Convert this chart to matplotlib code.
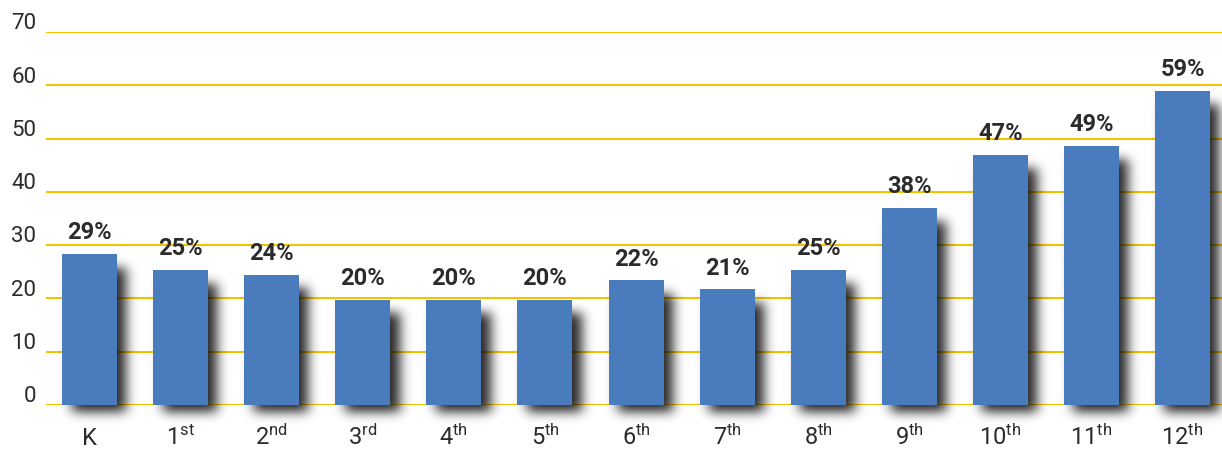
import numpy as np
import matplotlib.pyplot as plt
from matplotlib.transforms import ScaledTranslation

# grades and values
grades = ["K", "1", "2", "3", "4", "5", "6", "7", "8", "9", "10", "11", "12"]
suffixes = ["", "st", "nd", "rd", "th", "th", "th", "th", "th", "th", "th", "th", "th"]
heights = [28.3, 25.3, 24.4, 19.7, 19.7, 19.7, 23.4, 21.7, 25.3, 37.0, 46.9, 48.6, 58.9]
labels = [29, 25, 24, 20, 20, 20, 22, 21, 25, 38, 47, 49, 59]

plt.rcParams["font.family"] = ["Roboto", "DejaVu Sans"]
plt.rcParams["mathtext.default"] = "regular"

BAR_COLOR = "#4a7bbd"
GRID_COLOR = "#f2c300"
TEXT_COLOR = "#2b2b2b"


def blur_1d(a, sigma, axis):
    r = int(3 * sigma)
    k = np.exp(-0.5 * (np.arange(-r, r + 1) / sigma) ** 2)
    k /= k.sum()
    return np.apply_along_axis(lambda v: np.convolve(v, k, mode="same"), axis, a)


def draw_shadows(ax, x, h, width, xlim, px_x, px_y):
    # blurred drop shadow computed on a pixel grid, offset right and down
    y0, y1 = -8.0, 70.0
    nx = int((xlim[1] - xlim[0]) * px_x)
    ny = int((y1 - y0) * px_y)
    gx = np.linspace(xlim[0], xlim[1], nx)
    gy = np.linspace(y1, y0, ny)
    mask = np.zeros((ny, nx))
    dx = 9 / px_x
    dy = 7 / px_y
    for xi, hi in zip(x, h):
        cols = (gx >= xi - width / 2 + dx) & (gx <= xi + width / 2 + dx)
        rows = (gy >= -dy) & (gy <= hi - dy - 6 / px_y)
        mask[np.ix_(rows, cols)] = 1.0
    mask = blur_1d(mask, 6.0, 1)
    mask = blur_1d(mask, 5.5, 0)
    rgba = np.zeros((ny, nx, 4))
    rgba[..., 3] = mask * 0.85
    ax.imshow(rgba, extent=(xlim[0], xlim[1], y0, y1), aspect="auto",
              zorder=2, clip_on=False, interpolation="bilinear")


def main():
    fig = plt.figure(figsize=(12.22, 4.51), dpi=100)
    ax = fig.add_axes([46 / 1222, 46 / 451, 1 - 46 / 1222, (405 - 32) / 451])

    x = np.arange(len(grades))
    width = 0.604
    xlim = (-0.478, 12.433)
    px_x = 1176 / (xlim[1] - xlim[0])
    px_y = 373 / 70

    draw_shadows(ax, x, heights, width, xlim, px_x, px_y)
    ax.bar(x, heights, width=width, color=BAR_COLOR, linewidth=0, zorder=3)

    for xi, h, lab in zip(x, heights, labels):
        ax.annotate(f"{lab}%", (xi, h), xytext=(0, 7), textcoords="offset points",
                    ha="center", va="bottom", fontsize=17, fontweight="bold",
                    color=TEXT_COLOR, zorder=4)

    ax.set_xlim(*xlim)
    ax.set_ylim(0, 70)
    ax.set_yticks(range(0, 71, 10))
    ax.yaxis.grid(True, color=GRID_COLOR, linewidth=1.5)
    ax.set_axisbelow(True)

    tick_text = []
    for g, s in zip(grades, suffixes):
        if s:
            tick_text.append(f"${g}^{{{s}}}$")
        else:
            tick_text.append(g)
    ax.set_xticks(x)
    ax.set_xticklabels(tick_text, fontsize=17, color=TEXT_COLOR)
    ax.tick_params(axis="x", length=0, pad=29)
    for lab in ax.get_xticklabels():
        lab.set_va("baseline")
    ax.tick_params(axis="y", length=0, pad=7, labelsize=16, labelcolor=TEXT_COLOR)
    offset = ScaledTranslation(0, 2 / 72, fig.dpi_scale_trans)
    for lab in ax.get_yticklabels():
        lab.set_va("baseline")
        lab.set_transform(lab.get_transform() + offset)

    for sp in ax.spines.values():
        sp.set_visible(False)

    plt.savefig("out.png", dpi=100)


if __name__ == "__main__":
    main()
